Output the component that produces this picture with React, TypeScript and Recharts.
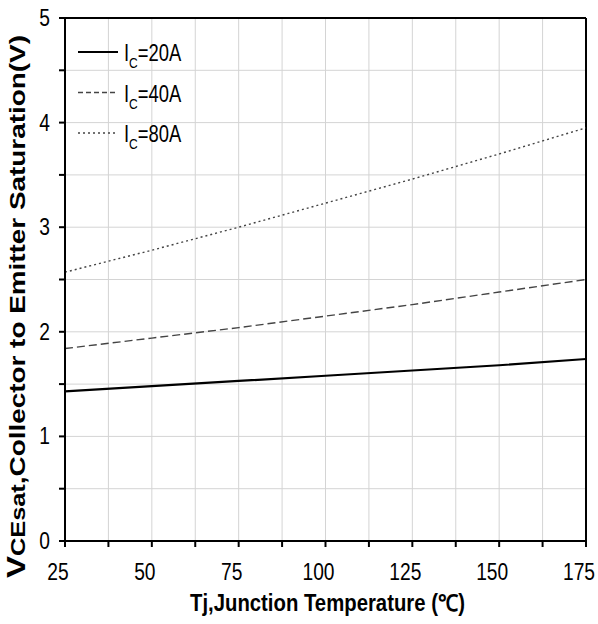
import React from 'react';
import {
  CartesianGrid,
  Line,
  LineChart,
  ReferenceLine,
  XAxis,
  YAxis,
} from 'recharts';

// junction temperature (°C)
const temps = [25, 50, 75, 100, 125, 150, 175];
// VCEsat (V) per collector current
const ic20 = [1.43, 1.48, 1.53, 1.58, 1.63, 1.68, 1.74];
const ic40 = [1.84, 1.94, 2.04, 2.15, 2.26, 2.38, 2.5];
const ic80 = [2.57, 2.78, 3.0, 3.23, 3.46, 3.7, 3.95];

const xTicks = [25, 37.5, 50, 62.5, 75, 87.5, 100, 112.5, 125, 137.5, 150, 162.5, 175];
const yTicks = [0, 0.5, 1, 1.5, 2, 2.5, 3, 3.5, 4, 4.5, 5];

const seriesInfo = [
  { key: 'ic20', amps: '20A', dash: undefined, keyDash: undefined, width: 2.2, color: '#000' },
  { key: 'ic40', amps: '40A', dash: '8 4', keyDash: '5 3', width: 1.4, color: '#444' },
  { key: 'ic80', amps: '80A', dash: '2 3', keyDash: '2 3', width: 1.4, color: '#444' },
];

const data = temps.map((t, i) => ({ t, ic20: ic20[i], ic40: ic40[i], ic80: ic80[i] }));

const font = "'Liberation Sans', Arial, sans-serif";

// condensed-looking tick labels: regular font squeezed horizontally
function NarrowTick(props: any) {
  const { x, y, payload, anchor, dx, dy } = props;
  const v = payload.value;
  const major = anchor === 'middle' ? v % 25 === 0 : v % 1 === 0;
  if (!major) return null;
  return (
    <text
      transform={`translate(${x + dx},${y + dy}) scale(0.8,1)`}
      textAnchor={anchor}
      fontFamily={font}
      fontSize={24}
      fill="#000"
    >
      {v}
    </text>
  );
}

function LegendBox() {
  return (
    <svg
      width={130}
      height={120}
      style={{ position: 'absolute', left: 70, top: 30, overflow: 'visible' }}
    >
      {seriesInfo.map((s, i) => {
        const cy = 22 + i * 40.5;
        return (
          <g key={s.key}>
            <line
              x1={8}
              y1={cy}
              x2={48}
              y2={cy}
              stroke={s.color}
              strokeWidth={s.width}
              strokeDasharray={s.keyDash}
            />
            <text
              transform={`translate(54,${cy + 9}) scale(0.8,1)`}
              fontFamily={font}
              fontSize={23}
              fill="#000"
            >
              I
              <tspan fontSize={15} dy={7}>C</tspan>
              <tspan dy={-7}>={s.amps}</tspan>
            </text>
          </g>
        );
      })}
    </svg>
  );
}

export default function App() {
  return (
    <div style={{ position: 'absolute', left: 0, top: 0, background: '#fff' }}>
      <LineChart
        width={598}
        height={624}
        data={data}
        margin={{ top: 18, right: 12, left: 0, bottom: 0 }}
      >
        <CartesianGrid stroke="#d4d4d4" strokeWidth={1} />
        <XAxis
          dataKey="t"
          type="number"
          domain={[25, 175]}
          ticks={xTicks}
          height={83}
          axisLine={{ stroke: '#000', strokeWidth: 2 }}
          tickLine={{ stroke: '#000', strokeWidth: 2 }}
          tickSize={6}
          tickMargin={22}
          tick={<NarrowTick anchor="middle" dx={-7} dy={11} />}
          label={{
            content: () => (
              <text
                x={190}
                y={611}
                textLength={275}
                lengthAdjust="spacingAndGlyphs"
                fontFamily={font}
                fontWeight="bold"
                fontSize={23}
                fill="#000"
              >
                Tj,Junction Temperature (℃)
              </text>
            ),
          }}
        />
        <YAxis
          type="number"
          domain={[0, 5]}
          ticks={yTicks}
          width={65}
          axisLine={{ stroke: '#000', strokeWidth: 2 }}
          tickLine={{ stroke: '#000', strokeWidth: 2 }}
          tickSize={6}
          tickMargin={9}
          tick={<NarrowTick anchor="end" dx={0} dy={8} />}
          label={{
            content: () => (
              <text
                transform="translate(25,578) rotate(-90)"
                textLength={543}
                lengthAdjust="spacingAndGlyphs"
                fontFamily={font}
                fontWeight="bold"
                fill="#000"
              >
                <tspan fontSize={26}>V</tspan>
                <tspan fontSize={20}>CEsat</tspan>
                <tspan fontSize={22}>,Collector to Emitter Saturation(V)</tspan>
              </text>
            ),
          }}
        />
        <ReferenceLine x={175} stroke="#000" strokeWidth={2} />
        <ReferenceLine y={5} stroke="#000" strokeWidth={2} />
        {seriesInfo.map((s) => (
          <Line
            key={s.key}
            type="linear"
            dataKey={s.key}
            stroke={s.color}
            strokeWidth={s.width}
            strokeDasharray={s.dash}
            dot={false}
            activeDot={false}
            isAnimationActive={false}
          />
        ))}
      </LineChart>
      <LegendBox />
    </div>
  );
}
